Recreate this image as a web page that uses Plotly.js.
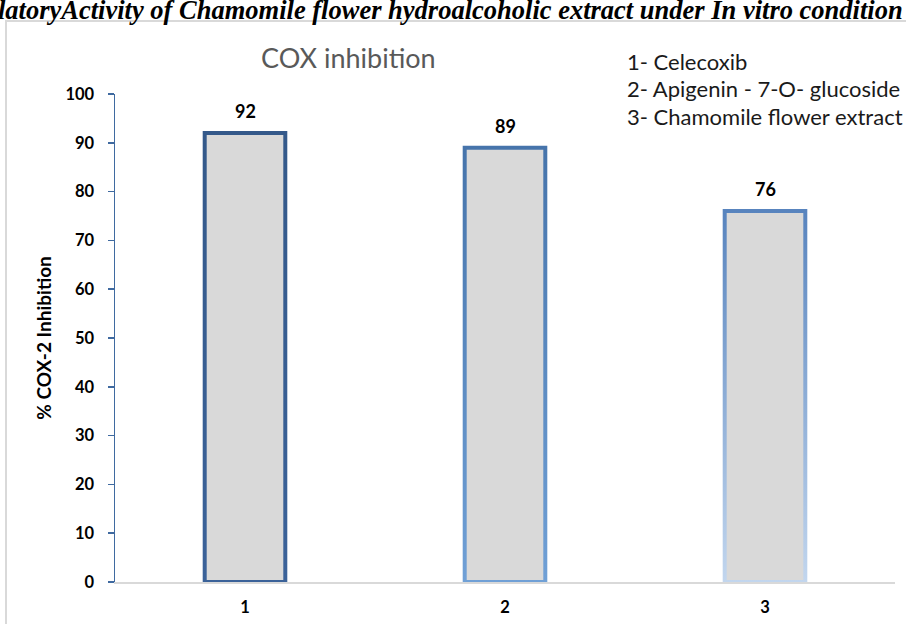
<!DOCTYPE html>
<html>
<head>
<meta charset="utf-8">
<script src="https://cdn.plot.ly/plotly-3.0.1.min.js"></script>
<style>html,body{margin:0;padding:0;background:#fff;}#chart{width:906px;height:624px;}</style>
</head>
<body>
<div id="chart"></div>
<script>
const categories = [1, 2, 3];
const categoryLabels = ['1', '2', '3'];
const inhibition = [92, 89, 76];
const legendLines = ['1- Celecoxib', '2- Apigenin - 7-O- glucoside', '3- Chamomile flower extract'];
const chartTitle = 'COX inhibition';
const yTitle = '% COX-2 Inhibition';
const headerText = 'latoryActivity of Chamomile flower hydroalcoholic extract under In vitro condition';
const yTicks = [0, 10, 20, 30, 40, 50, 60, 70, 80, 90, 100];

const W = 906, H = 624, L = 115, R = 11, T = 94, B = 42;
const pw = W - L - R, ph = H - T - B;
const px = v => (v - L) / pw;
const py = v => (H - B - v) / ph;
const font = 'Lato, "Noto Sans", sans-serif';

const trace = {
  type: 'bar',
  x: categories,
  y: inhibition,
  width: 0.31,
  marker: {
    color: '#d9d9d9',
    line: {color: ['#3a5f90', '#4a77b0', '#6a96cc'], width: 4}
  },
  hoverinfo: 'x+y'
};

const annotations = [];
categories.forEach((c, i) => {
  annotations.push({
    x: c, y: inhibition[i], xref: 'x', yref: 'y',
    text: String(inhibition[i]), showarrow: false,
    yanchor: 'bottom', yshift: 9,
    font: {family: font, size: 18, color: '#000', weight: 'bold'}
  });
});
annotations.push({
  x: px(348), y: py(57), xref: 'paper', yref: 'paper',
  text: chartTitle, showarrow: false, xanchor: 'center', yanchor: 'middle',
  font: {family: font, size: 27, color: '#595959'}
});
const legY = [62, 89, 116];
legendLines.forEach((t, i) => {
  annotations.push({
    x: px(625), y: py(legY[i]), xref: 'paper', yref: 'paper',
    text: t, showarrow: false, xanchor: 'left', yanchor: 'middle',
    font: {family: font, size: 22, color: '#1a1a1a'}
  });
});
annotations.push({
  x: px(-4), y: py(10), xref: 'paper', yref: 'paper',
  text: '<b><i>' + headerText + '</i></b>', showarrow: false,
  xanchor: 'left', yanchor: 'middle',
  font: {family: '"Liberation Serif", "Times New Roman", serif', size: 26.5, color: '#000'}
});

const layout = {
  width: W, height: H,
  margin: {l: L, r: R, t: T, b: B, pad: 0},
  paper_bgcolor: '#ffffff', plot_bgcolor: '#ffffff',
  showlegend: false,
  xaxis: {
    type: 'linear', range: [0.5, 3.5], tickvals: categories, ticktext: categoryLabels,
    showgrid: false, zeroline: false, showline: true, linecolor: '#d9d9d9', linewidth: 2,
    ticks: '', ticklabelstandoff: 9, layer: 'below traces',
    tickfont: {family: font, size: 16.5, color: '#000', weight: 'bold'}
  },
  yaxis: {
    range: [0, 100], tickvals: yTicks, showgrid: false, zeroline: false,
    showline: true, linecolor: '#3f6aa0', linewidth: 1.5,
    ticks: 'outside', ticklen: 6, tickcolor: '#3f6aa0', tickwidth: 1.5,
    ticklabelstandoff: 10,
    tickfont: {family: font, size: 16.5, color: '#000', weight: 'bold'},
    title: {text: yTitle, standoff: 9, font: {family: font, size: 19, color: '#000', weight: 'bold'}}
  },
  shapes: [{
    type: 'rect', xref: 'paper', yref: 'paper',
    x0: px(6), x1: px(940), y0: py(660), y1: py(21),
    line: {color: '#d9d9d9', width: 2}, fillcolor: 'rgba(0,0,0,0)', layer: 'below'
  }],
  annotations: annotations
};

Plotly.newPlot('chart', [trace], layout, {displayModeBar: false, staticPlot: true}).then(gd => {
  const svg = gd.querySelector('.main-svg');
  const ns = 'http://www.w3.org/2000/svg';
  let defs = svg.querySelector('defs');
  if (!defs) { defs = document.createElementNS(ns, 'defs'); svg.insertBefore(defs, svg.firstChild); }
  const grads = [['g1', '#34598a', '#3b6299'], ['g2', '#4674ab', '#70a0d6'], ['g3', '#5884be', '#c2d6ee']];
  grads.forEach(([id, c1, c2]) => {
    const g = document.createElementNS(ns, 'linearGradient');
    g.setAttribute('id', id); g.setAttribute('x1', '0'); g.setAttribute('y1', '0');
    g.setAttribute('x2', '0'); g.setAttribute('y2', '1');
    [[0, c1], [1, c2]].forEach(([o, c]) => {
      const s = document.createElementNS(ns, 'stop');
      s.setAttribute('offset', o); s.setAttribute('stop-color', c);
      g.appendChild(s);
    });
    defs.appendChild(g);
  });
  gd.querySelectorAll('.trace.bars .point path').forEach((p, i) => {
    p.style.stroke = 'url(#g' + (i + 1) + ')';
  });
});
</script>
</body>
</html>
